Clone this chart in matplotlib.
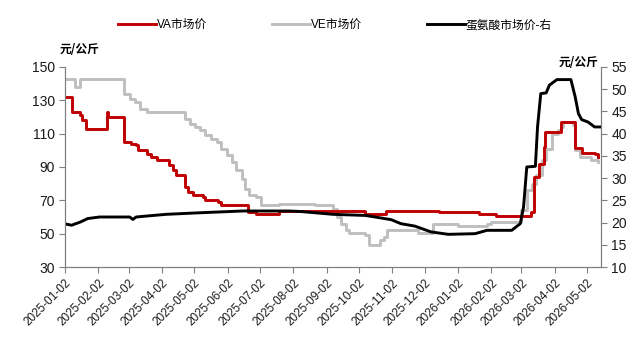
import matplotlib
matplotlib.use("Agg")
import matplotlib.pyplot as plt
import matplotlib.dates as mdates
import pandas as pd

plt.rcParams["font.family"] = ["Liberation Sans", "Noto Sans CJK SC", "DejaVu Sans"]

# VA market price (left axis, yuan/kg)
va_dates = [
    "2025-01-02", "2025-01-08", "2025-01-16", "2025-01-18", "2025-01-21",
    "2025-02-10", "2025-02-11", "2025-02-26", "2025-03-04", "2025-03-09",
    "2025-03-11", "2025-03-19", "2025-03-23", "2025-03-28", "2025-04-09",
    "2025-04-12", "2025-04-15", "2025-04-23", "2025-04-26", "2025-05-01",
    "2025-05-10", "2025-05-12", "2025-05-24", "2025-05-27", "2025-06-21",
    "2025-06-28", "2025-07-20", "2025-09-08", "2025-10-08", "2025-10-27",
    "2025-12-15", "2026-01-22", "2026-02-06", "2026-03-11", "2026-03-14",
    "2026-03-18", "2026-03-23", "2026-03-24", "2026-04-08", "2026-04-21",
    "2026-04-27", "2026-05-09", "2026-05-12",
]
va_values = [
    132, 123, 121, 118, 112.5,
    123, 120, 105, 104, 103,
    100, 98, 96, 94, 91,
    88, 85, 78, 75, 73,
    72, 70, 69, 67.4, 63,
    62, 63.6, 63.6, 62, 63.6,
    62.8, 61.6, 60.4, 63, 84,
    92, 102, 111, 117, 101.6,
    98.4, 98, 96,
]

# VE market price (left axis, yuan/kg)
ve_dates = [
    "2025-01-02", "2025-01-11", "2025-01-16", "2025-02-26", "2025-03-03",
    "2025-03-08", "2025-03-13", "2025-03-19", "2025-04-23", "2025-04-28",
    "2025-05-03", "2025-05-07", "2025-05-12", "2025-05-18", "2025-05-23",
    "2025-05-27", "2025-06-01", "2025-06-06", "2025-06-10", "2025-06-15",
    "2025-06-18", "2025-06-22", "2025-06-28", "2025-07-03", "2025-07-20",
    "2025-08-22", "2025-09-08", "2025-09-12", "2025-09-15", "2025-09-20",
    "2025-09-23", "2025-10-08", "2025-10-11", "2025-10-22", "2025-10-25",
    "2025-10-28", "2025-11-26", "2025-12-10", "2026-01-02", "2026-01-29",
    "2026-02-02", "2026-03-02", "2026-03-07", "2026-03-12", "2026-03-16",
    "2026-03-21", "2026-03-25", "2026-03-30", "2026-04-05", "2026-04-08",
    "2026-04-10", "2026-04-19", "2026-04-21", "2026-04-25", "2026-05-06",
    "2026-05-12",
]
ve_values = [
    143, 138, 143, 134, 131,
    129, 125, 123, 119, 116,
    114, 112, 109, 107, 105,
    101, 97, 93, 88, 83,
    77, 73, 72, 67, 68,
    67, 65, 60, 56, 52,
    50.4, 49, 43, 46, 48,
    52, 50.4, 55.6, 54.6, 56,
    57, 64, 76, 80, 85,
    94, 101, 110, 112, 114,
    117, 115, 100, 96, 94,
    93,
]

# Methionine market price (right axis, yuan/kg)
met_dates = [
    "2025-01-02", "2025-01-08", "2025-01-16", "2025-01-23", "2025-02-03",
    "2025-03-03", "2025-03-06", "2025-03-09", "2025-03-25", "2025-04-06",
    "2025-05-07", "2025-06-16", "2025-07-29", "2025-08-08", "2025-09-08",
    "2025-10-08", "2025-10-17", "2025-11-01", "2025-11-10", "2025-11-23",
    "2025-12-08", "2025-12-24", "2026-01-18", "2026-01-29", "2026-02-21",
    "2026-02-26", "2026-03-01", "2026-03-04", "2026-03-07", "2026-03-15",
    "2026-03-17", "2026-03-20", "2026-03-25", "2026-03-28", "2026-04-04",
    "2026-04-17", "2026-04-21", "2026-04-24", "2026-04-27", "2026-05-03",
    "2026-05-09", "2026-05-14",
]
met_values = [
    19.7, 19.4, 20.1, 20.9, 21.25,
    21.25, 20.7, 21.25, 21.6, 21.85,
    22.2, 22.6, 22.6, 22.5, 21.85,
    21.6, 21.25, 20.65, 19.75, 19.2,
    17.9, 17.35, 17.5, 18.25, 18.25,
    19.2, 19.75, 23.5, 32.5, 32.65,
    41.5, 49, 49.15, 50.9, 52.15,
    52.15, 48.25, 44.5, 43.15, 42.6,
    41.5, 41.5,
]

RED = "#C00000"
GRAY = "#BFBFBF"
SPINE = "#7F7F7F"

fig = plt.figure(figsize=(6.32, 3.38), dpi=100)
ax = fig.add_axes([0.103, 0.21, 0.848, 0.592])
ax2 = ax.twinx()

l_va, = ax.plot(pd.to_datetime(va_dates), va_values, color=RED, lw=2.1,
                drawstyle="steps-post", label="VA市场价", zorder=3)
l_ve, = ax.plot(pd.to_datetime(ve_dates), ve_values, color=GRAY, lw=2.1,
                drawstyle="steps-post", label="VE市场价", zorder=2)
l_met, = ax2.plot(pd.to_datetime(met_dates), met_values, color="black", lw=2.1,
                  label="蛋氨酸市场价-右")

ax.set_ylim(30, 150)
ax.set_yticks(range(30, 151, 20))
ax2.set_ylim(10, 55)
ax2.set_yticks(range(10, 56, 5))
ax.set_xlim(pd.Timestamp("2025-01-02"), pd.Timestamp("2026-05-15"))

ax.xaxis.set_major_locator(mdates.MonthLocator(bymonthday=2))
ax.xaxis.set_major_formatter(mdates.DateFormatter("%Y-%m-%d"))
for lab in ax.get_xticklabels():
    lab.set_rotation(45)
    lab.set_ha("right")
    lab.set_rotation_mode("anchor")
    lab.set_fontsize(8.5)

for a in (ax, ax2):
    a.spines["top"].set_visible(False)
    for s in ("left", "right", "bottom"):
        a.spines[s].set_color(SPINE)
        a.spines[s].set_linewidth(0.8)
    a.tick_params(colors=SPINE, labelcolor="#1a1a1a", labelsize=10, length=4, width=0.8)
ax.tick_params(axis="x", labelsize=8.5)

ax.text(-0.01, 1.07, "元/公斤", transform=ax.transAxes, fontsize=8.5,
        fontweight="bold", family=["Noto Sans CJK SC", "DejaVu Sans"])
ax2.text(0.995, 1.005, "元/公斤", transform=ax2.transAxes, fontsize=8.5,
         fontweight="bold", ha="right", family=["Noto Sans CJK SC", "DejaVu Sans"])

fig.legend(handles=[l_va, l_ve, l_met], loc="upper center",
           bbox_to_anchor=(0.53, 0.975), ncol=3, frameon=False,
           columnspacing=5.5, handlelength=3.2, handletextpad=0.1,
           prop={"family": ["Liberation Sans", "Noto Sans CJK SC"], "size": 8.5})

fig.savefig("out.png", dpi=100)
